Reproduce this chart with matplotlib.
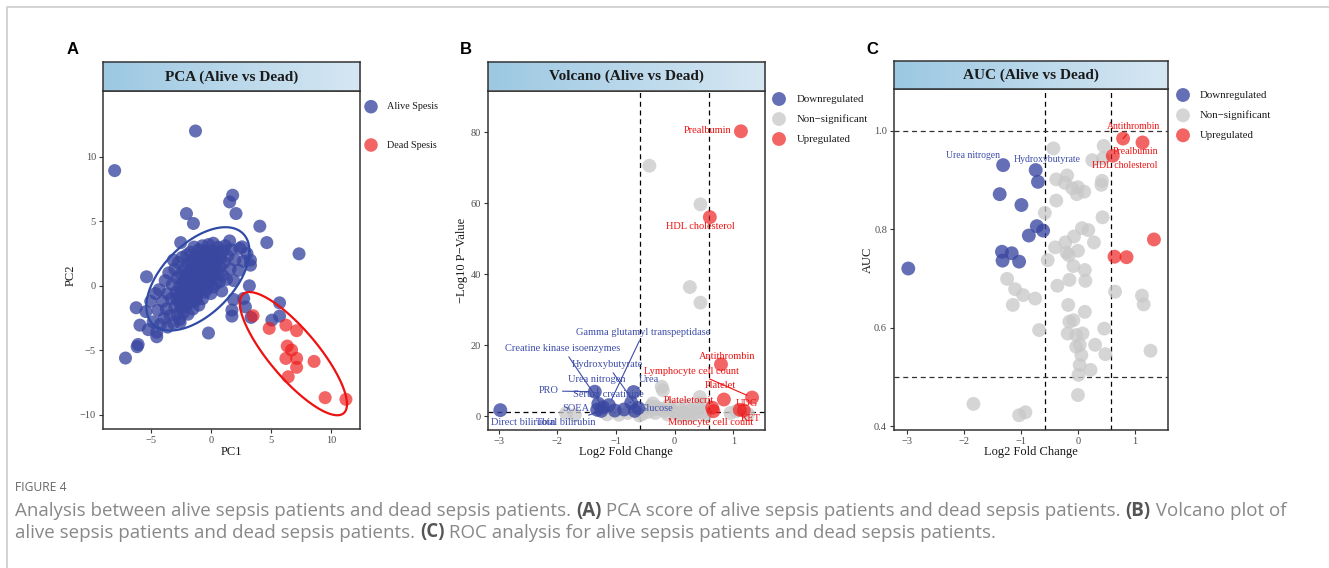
import numpy as np
import matplotlib
matplotlib.use('Agg')
import matplotlib.pyplot as plt
from matplotlib.colors import LinearSegmentedColormap

# ---------------- data ----------------
# Panel A: PCA scores (outliers first, then the spread core, then the dense centre)
alive_x = [-8.0, -1.28, 1.81, 1.56, 2.09, -2.03, -1.45, 4.07, 4.65, 7.33, -7.1, -6.13, -6.05,
           -0.2, 3.2, 5.71, 5.71, 5.07, 3.34, 1.75, 1.89, 2.73, 2.87, 1.75, 3.29, 3.29, 2.59,
           1.56, -2.51, -3.12, -5.35, -6.21, -5.9, -4.5, -2.56, -1.2,
           -5.4, -5.2, -5.0, -4.8, -4.6, -4.5,
           -4.4, -4.3, -4.2, -4.0, -3.9, -3.8, -3.7, -3.6, -3.6, -3.5,
           -3.4, -3.3, -3.2, -3.1, -3.0, -3.0, -2.9, -2.8, -2.8, -2.7, -2.7, -2.6, -2.6, -2.5, -2.5, -2.5,
           -2.4, -2.4, -2.3, -2.3, -2.2, -2.2, -2.1, -2.1, -2.0, -2.0, -2.0, -1.9, -1.9, -1.8, -1.8,
           -1.7, -1.7, -1.6, -1.6, -1.6, -1.5, -1.5,
           -1.4, -1.4, -1.4, -1.3, -1.3, -1.2, -1.2, -1.1, -1.1, -1.1, -1.0, -1.0, -0.9, -0.9, -0.9,
           -0.8, -0.8, -0.7, -0.7, -0.7, -0.6, -0.6, -0.5, -0.5,
           -0.4, -0.4, -0.3, -0.3, -0.2, -0.2, -0.1, -0.1, 0.0, 0.0, 0.0, 0.1, 0.1, 0.2, 0.2, 0.3, 0.3,
           0.4, 0.4, 0.5,
           0.6, 0.6, 0.7, 0.8, 0.8, 0.9, 1.0, 1.0, 1.1, 1.2, 1.3, 1.4,
           1.6, 1.7, 1.9, 2.0, 2.3, 2.4, 2.7, 3.0,
           -2.4, -2.3, -2.2, -2.1, -2.0, -2.0, -1.9, -1.9, -1.8, -1.8, -1.7, -1.7, -1.6, -1.6, -1.5,
           -1.5, -1.4, -1.4, -1.3, -1.3, -1.2, -1.2, -1.1, -1.1, -1.0, -1.0, -0.9, -0.9, -0.8, -0.8,
           -0.7, -0.7, -0.6, -0.6, -0.5, -0.5, -0.4, -0.4, -0.3, -0.3, -0.2, -0.2, -0.1, 0.0, 0.0,
           0.1, 0.2, 0.3, -2.6, -2.8]
alive_y = [8.93, 12.0, 7.02, 6.5, 5.6, 5.6, 4.83, 4.62, 3.35, 2.48, -5.6, -4.72, -4.55,
           -3.66, 0.0, -1.32, -2.35, -2.66, -2.45, -2.35, -1.06, -0.98, -1.63, -1.88, 1.99, 1.6, 3.02,
           3.48, 3.35, 1.99, 0.7, -1.7, -3.05, -3.95, -2.84, -1.0,
           -2.0, -3.4, -1.2, -2.8, -0.6, -3.6,
           -1.9, -0.3, -3.0, -1.2, -2.5, 0.4, -1.8, -3.2, -0.6, 1.0,
           -2.3, -1.0, 0.1, -2.9, -1.6, 1.3, -0.5, -2.2, 0.6, -1.2, 1.8, -0.1, -2.6, -1.7, 0.9, -0.7,
           2.2, -1.2, 0.3, -2.1, 1.3, -0.4, -1.6, 0.8, 2.4, -0.9, 0.1, 1.7, -2.2, -0.2, 1.0,
           -1.3, 2.6, 0.4, -0.7, 1.6, -1.8, 2.0,
           0.6, -0.3, 3.0, 1.3, -1.2, 2.3, 0.1, -0.6, 1.8, 0.9, 2.8, -1.5, 0.4, 1.5, -0.3,
           2.4, 0.9, -1.0, 3.1, 1.9, 0.2, 1.2, 2.7, -0.5,
           1.6, 0.6, 2.2, -0.2, 1.1, 3.2, 0.3, 1.9, 2.7, -0.6, 1.3, 0.7, 2.3, 3.3, -0.1, 1.6, 0.9,
           2.6, 0.2, 1.9,
           1.1, 3.0, 0.3, 2.2, 1.5, -0.4, 2.7, 0.8, 1.8, 3.1, 0.5, 2.3,
           1.3, 2.8, 0.4, 2.0, 1.2, 2.9, 1.9, 2.5,
           -0.6, 0.1, -0.9, 0.4, -0.3, 0.6, -0.8, 0.2, 0.7, -0.4, 0.0, 0.9, -0.3, 0.5, 1.0,
           0.0, 0.4, 1.2, -0.2, 0.8, 0.5, 1.4, 0.1, 0.7, 1.2, 0.2, 0.8, 1.6, 0.4, 1.2,
           0.7, 1.6, 0.9, 1.8, 0.5, 1.3, 1.9, 0.9, 1.4, 0.4, 1.8, 0.8, 1.3, 1.8, 0.8,
           1.4, 2.0, 1.1, -0.7, -1.0]
dead_x = [3.51, 4.85, 6.24, 7.13, 6.35, 6.71, 6.24, 7.13, 8.58, 7.13, 6.43, 9.5, 11.23]
dead_y = [-2.32, -3.3, -3.05, -3.48, -4.67, -4.98, -5.63, -5.63, -5.86, -6.32, -7.05, -8.67, -8.8]

# Panel B: volcano
vol_down_names = ['Direct bilirubin', 'PRO', 'Urea', 'Gamma glutamyl transpeptidase',
                  'Creatine kinase isoenzymes', 'Hydroxybutyrate', 'Urea nitrogen',
                  'Serum creatinine', 'SOEA', 'Glucose', 'Total bilirubin', '', '']
vol_down_fc = [-2.97, -1.36, -0.70, -1.12, -1.22, -0.62, -1.30, -0.74, -1.32, -0.68, -1.25, -1.02, -0.86]
vol_down_p = [1.7, 6.9, 6.8, 3.1, 2.5, 2.3, 3.5, 3.8, 1.8, 1.5, 1.5, 1.6, 1.9]
vol_up_names = ['Prealbumin', 'HDL cholesterol', 'Antithrombin', 'Platelet', 'Lymphocyte cell count',
                'Plateletocrit', 'UDG', 'KET', 'Monocyte cell count']
vol_up_fc = [1.13, 0.60, 0.79, 0.84, 1.32, 0.64, 1.11, 1.18, 0.66]
vol_up_p = [80.3, 56.1, 14.6, 4.7, 5.25, 2.4, 1.8, 1.6, 1.4]
vol_ns_fc = [-0.43, 0.44, 0.26, 0.44, -0.20, -0.22, 0.43, 0.45, -0.37, -0.30, -1.85, -1.70, -1.15,
             -0.95, -0.80, -0.55, -0.45, -0.40, -0.33, -0.25, -0.18, -0.12, -0.05, 0.02, 0.08, 0.15,
             0.22, 0.28, 0.35, 0.40, 0.48, 0.52, 0.95, 1.05, 1.25, -0.60, -0.10, 0.10, 0.30, -0.35,
             0.00, 0.20]
vol_ns_p = [70.6, 59.7, 36.4, 32.0, 7.3, 8.3, 5.4, 3.6, 3.6, 2.5, 0.8, 0.3, 0.5, 0.4, 0.9, 0.6, 1.2,
            2.8, 0.9, 2.0, 1.5, 0.5, 1.8, 0.7, 2.3, 1.0, 0.4, 1.6, 0.8, 2.6, 1.1, 0.3, 0.9, 1.4, 0.6,
            0.2, 3.1, 0.15, 0.2, 1.9, 1.2, 2.9]
# label positions (data units) for volcano
vol_lab_pos = {
    'Gamma glutamyl transpeptidase': (-0.53, 23.7), 'Creatine kinase isoenzymes': (-1.90, 19.1),
    'Hydroxybutyrate': (-1.15, 14.6), 'Urea nitrogen': (-1.32, 10.4), 'Urea': (-0.44, 10.4),
    'PRO': (-2.15, 7.1), 'Serum creatinine': (-1.13, 6.2), 'SOEA': (-1.68, 2.25),
    'Glucose': (-0.31, 2.25), 'Direct bilirubin': (-2.58, -1.9), 'Total bilirubin': (-1.85, -1.9),
    'Prealbumin': (0.56, 80.6), 'HDL cholesterol': (0.44, 53.6), 'Antithrombin': (0.90, 16.9),
    'Lymphocyte cell count': (0.29, 12.7), 'Platelet': (0.78, 8.6), 'Plateletocrit': (0.24, 4.5),
    'UDG': (1.23, 3.66), 'KET': (1.30, -0.56), 'Monocyte cell count': (0.62, -1.9)}
vol_seg = ['Gamma glutamyl transpeptidase', 'Creatine kinase isoenzymes', 'Hydroxybutyrate',
           'Urea nitrogen', 'Urea', 'PRO', 'Total bilirubin', 'Lymphocyte cell count', 'Serum creatinine']

# Panel C: AUC
auc_down_fc = [-1.31, -0.74, -0.70, -1.37, -0.99, -0.72, -0.61, -0.86, -1.33, -1.16, -1.32, -1.03, -2.97]
auc_down_v = [0.930, 0.920, 0.896, 0.871, 0.849, 0.806, 0.797, 0.787, 0.754, 0.751, 0.736, 0.734, 0.720]
auc_down_names = ['Urea nitrogen', 'Hydroxybutyrate', '', '', '', '', '', '', '', '', '', '', '']
auc_up_fc = [0.79, 1.13, 0.61, 1.33, 0.64, 0.85]
auc_up_v = [0.984, 0.976, 0.949, 0.779, 0.744, 0.743]
auc_up_names = ['Antithrombin', 'Prealbumin', 'HDL cholesterol', '', '', '']
auc_ns_fc = [-0.43, 0.45, 0.25, 0.44, -0.19, -0.38, -0.23, -0.10, 0.0, 0.11, -0.02, 0.42, 0.41, -0.38,
             -0.58, 0.43, 0.07, 0.18, -0.07, -0.22, 0.28, -0.40, 0.0, -0.20, -0.16, -0.53, -0.08, 0.12,
             -1.24, -0.15, 0.13, 0.65, -1.10, -0.96, -0.75, -0.36, 1.12, 1.15, -1.14, -0.17, 0.12, -0.08,
             -0.15, 0.46, -0.68, -0.18, 0.08, -0.03, 0.03, -0.03, 0.30, 0.06, 0.48, 1.27, 0.03, 0.22,
             0.01, 0.0, -1.83, -1.03, -0.92]
auc_ns_v = [0.964, 0.969, 0.940, 0.944, 0.909, 0.901, 0.894, 0.883, 0.885, 0.876, 0.871, 0.898, 0.890,
            0.858, 0.833, 0.824, 0.802, 0.798, 0.785, 0.773, 0.773, 0.763, 0.756, 0.752, 0.747, 0.737,
            0.725, 0.717, 0.699, 0.697, 0.695, 0.673, 0.678, 0.666, 0.659, 0.685, 0.665, 0.647, 0.646,
            0.646, 0.632, 0.615, 0.612, 0.598, 0.595, 0.588, 0.588, 0.585, 0.565, 0.561, 0.565, 0.544,
            0.546, 0.553, 0.524, 0.514, 0.504, 0.463, 0.445, 0.422, 0.428]
auc_lab_pos = {'Antithrombin': (0.975, 1.009), 'Prealbumin': (1.0, 0.957), 'HDL cholesterol': (0.82, 0.929),
               'Urea nitrogen': (-1.83, 0.949), 'Hydroxybutyrate': (-0.53, 0.942)}

fc_cut = 0.585
p_cut = 1.3
auc_cuts = [0.5, 1.0]

# ---------------- style ----------------
W, H = 1329, 568
plt.rcParams['font.family'] = ['Liberation Serif', 'DejaVu Serif']
plt.rcParams['axes.unicode_minus'] = True
BLUE = '#3A47A0'
RED = '#EE1B1B'
GREY = '#C8C8C8'
BLUE_T = '#3D4DA8'
RED_T = '#EE1111'
TICKC = '#4D4D4D'

fig = plt.figure(figsize=(W / 100, H / 100), dpi=100)


def px_axes(l, t, r, b, **kw):
    return fig.add_axes([l / W, 1 - b / H, (r - l) / W, (b - t) / H], **kw)


strip_cmap = LinearSegmentedColormap.from_list('strip', ['#9CC8E2', '#D6E7F3'])


def style(ax):
    for s in ax.spines.values():
        s.set_color('#333333')
        s.set_linewidth(1.1)
    ax.tick_params(direction='out', length=3, width=0.8, color='#333333',
                   labelcolor=TICKC, labelsize=7.5, pad=2)


def strip(l, t, r, b, title):
    ax = px_axes(l, t, r, b)
    ax.imshow(np.linspace(0, 1, 256)[None, :], cmap=strip_cmap, aspect='auto',
              extent=[0, 1, 0, 1])
    ax.set_xlim(0, 1)
    ax.set_ylim(0, 1)
    ax.set_xticks([])
    ax.set_yticks([])
    for s in ax.spines.values():
        s.set_color('#333333')
        s.set_linewidth(1.1)
    ax.text(0.5, 0.48, title, ha='center', va='center', fontsize=11, fontweight='bold', color='#1a1a1a')


def cov_trob(X, nu=5, iters=100):
    n, p = X.shape
    m = X.mean(0)
    S = np.cov(X.T)
    for _ in range(iters):
        d = X - m
        md = np.einsum('ij,jk,ik->i', d, np.linalg.inv(S), d)
        w = (nu + p) / (nu + md)
        m = (w[:, None] * X).sum(0) / w.sum()
        d = X - m
        S = (w[:, None] * d).T @ d / n
    return m, S


def ellipse(ax, xs, ys, fq, color):
    X = np.column_stack([xs, ys])
    m, S = cov_trob(X)
    r = np.sqrt(2 * fq)
    th = np.linspace(0, 2 * np.pi, 200)
    circ = np.column_stack([np.cos(th), np.sin(th)])
    L = np.linalg.cholesky(S).T
    e = m + r * circ @ L
    ax.plot(e[:, 0], e[:, 1], color=color, lw=1.6, zorder=3)


# ---------------- Panel A ----------------
axA = px_axes(103, 91, 360, 429)
style(axA)
axA.scatter(alive_x, alive_y, s=88, c=BLUE, alpha=0.78, edgecolors='none', zorder=2)
axA.scatter(dead_x, dead_y, s=88, c=RED, alpha=0.68, edgecolors='none', zorder=2)
ellipse(axA, alive_x, alive_y, 3.05, '#2F4BA5')
ellipse(axA, dead_x, dead_y, 3.885, '#EE1111')
axA.set_xlim(-8.97, 12.4)
axA.set_ylim(-11.1, 15.1)
axA.set_xticks([-5, 0, 5, 10])
axA.set_yticks([-10, -5, 0, 5, 10])
strip(103, 62, 360, 91, 'PCA (Alive vs Dead)')

# ---------------- Panel B ----------------
axB = px_axes(488, 90.5, 765, 430)
style(axB)
axB.scatter(vol_ns_fc, vol_ns_p, s=100, c=GREY, alpha=0.75, edgecolors='none', zorder=2)
axB.scatter(vol_down_fc, vol_down_p, s=100, c=BLUE, alpha=0.78, edgecolors='none', zorder=2)
axB.scatter(vol_up_fc, vol_up_p, s=100, c=RED, alpha=0.68, edgecolors='none', zorder=2)
for xv in (-fc_cut, fc_cut):
    axB.axvline(xv, color='black', lw=0.9, ls=(0, (4, 3)), zorder=1)
axB.axhline(p_cut, color='black', lw=0.9, ls=(0, (4, 3)), zorder=1)
for names, fcs, ps, col in ((vol_down_names, vol_down_fc, vol_down_p, BLUE_T),
                            (vol_up_names, vol_up_fc, vol_up_p, RED_T)):
    for nm, fx, py in zip(names, fcs, ps):
        if not nm:
            continue
        lx, ly = vol_lab_pos[nm]
        if nm in vol_seg:
            axB.annotate(nm, xy=(fx, py), xytext=(lx, ly), ha='center', va='center',
                         fontsize=7.5, color=col, zorder=4,
                         arrowprops=dict(arrowstyle='-', color=col, lw=0.8, shrinkA=1, shrinkB=4))
        else:
            axB.text(lx, ly, nm, ha='center', va='center', fontsize=7.5, color=col, zorder=4)
axB.set_xlim(-3.18, 1.54)
axB.set_ylim(-3.9, 91.8)
axB.set_xticks([-3, -2, -1, 0, 1])
axB.set_yticks([0, 20, 40, 60, 80])
strip(488, 61.7, 765, 90.5, 'Volcano (Alive vs Dead)')

# ---------------- Panel C ----------------
axC = px_axes(894, 89.3, 1168, 430)
style(axC)
axC.scatter(auc_ns_fc, auc_ns_v, s=100, c=GREY, alpha=0.75, edgecolors='none', zorder=2)
axC.scatter(auc_down_fc, auc_down_v, s=100, c=BLUE, alpha=0.78, edgecolors='none', zorder=2)
axC.scatter(auc_up_fc, auc_up_v, s=100, c=RED, alpha=0.68, edgecolors='none', zorder=2)
for xv in (-fc_cut, fc_cut):
    axC.axvline(xv, color='black', lw=0.9, ls=(0, (4, 3)), zorder=1)
for yv in auc_cuts:
    axC.axhline(yv, color='#333333', lw=0.9, ls=(0, (4, 3)), zorder=1)
for names, fcs, vs, col in ((auc_down_names, auc_down_fc, auc_down_v, BLUE_T),
                            (auc_up_names, auc_up_fc, auc_up_v, RED_T)):
    for nm, fx, vy in zip(names, fcs, vs):
        if not nm:
            continue
        lx, ly = auc_lab_pos[nm]
        if nm == 'Antithrombin':
            axC.annotate(nm, xy=(fx, vy), xytext=(lx, ly), ha='center', va='center',
                         fontsize=7, color=col, zorder=4,
                         arrowprops=dict(arrowstyle='-', color=col, lw=0.8, shrinkA=1, shrinkB=4))
        else:
            axC.text(lx, ly, nm, ha='center', va='center', fontsize=7, color=col, zorder=4)
axC.set_xlim(-3.22, 1.576)
axC.set_ylim(0.392, 1.084)
axC.set_xticks([-3, -2, -1, 0, 1])
axC.set_yticks([0.4, 0.6, 0.8, 1.0])
axC.set_yticklabels(['0.4', '0.6', '0.8', '1.0'])
strip(894, 60.7, 1168, 89.3, 'AUC (Alive vs Dead)')

# ---------------- overlay: labels, legends, border, caption ----------------
ov = fig.add_axes([0, 0, 1, 1], zorder=10)
ov.set_xlim(0, W)
ov.set_ylim(H, 0)
ov.axis('off')
ov.patch.set_alpha(0)

# border of page
ov.plot([7, 7, W], [H, 7, 7], color='#CCCCCC', lw=1.2)

# panel letters
for lx, lab in ((73, 'A'), (466, 'B'), (872, 'C')):
    ov.text(lx, 49, lab, ha='center', va='center', fontsize=12, fontweight='bold',
            family=['Liberation Sans', 'DejaVu Sans'], color='black')

# axis titles
ov.text(231, 452, 'PC1', ha='center', va='center', fontsize=9, color='#1a1a1a')
ov.text(71, 275, 'PC2', ha='center', va='center', fontsize=9, color='#1a1a1a', rotation=90)
ov.text(626, 452, 'Log2 Fold Change', ha='center', va='center', fontsize=9, color='#1a1a1a')
ov.text(462, 260, '\u2212Log10 P\u2212Value', ha='center', va='center', fontsize=9, color='#1a1a1a',
        rotation=90)
ov.text(1031, 452, 'Log2 Fold Change', ha='center', va='center', fontsize=9, color='#1a1a1a')
ov.text(868, 260, 'AUC', ha='center', va='center', fontsize=9, color='#1a1a1a', rotation=90)

# legends
legA = [('Alive Spesis', BLUE, 0.78, 106.7), ('Dead Spesis', RED, 0.68, 145)]
for txt, col, al, yy in legA:
    ov.scatter([371], [yy], s=95, c=col, alpha=al, edgecolors='none')
    ov.text(387, yy, txt, ha='left', va='center', fontsize=7.3, color='#1a1a1a')
legB = [('Downregulated', BLUE, 0.78), ('Non\u2212significant', GREY, 0.75), ('Upregulated', RED, 0.68)]
for (txt, col, al), yy in zip(legB, (99, 119, 139)):
    ov.scatter([779], [yy], s=100, c=col, alpha=al, edgecolors='none')
    ov.text(797, yy, txt, ha='left', va='center', fontsize=7.8, color='#1a1a1a')
for (txt, col, al), yy in zip(legB, (95, 115.3, 135.3)):
    ov.scatter([1183], [yy], s=100, c=col, alpha=al, edgecolors='none')
    ov.text(1200, yy, txt, ha='left', va='center', fontsize=7.8, color='#1a1a1a')

# caption
CAP = ['Open Sans', 'DejaVu Sans']
ov.text(15, 487.5, 'FIGURE 4', ha='left', va='center', fontsize=8.7, family=CAP, color='#666666')
renderer = fig.canvas.get_renderer()


def rich(x, y, segs, size=13.5):
    for txt, bold in segs:
        t = ov.text(x, y, txt, ha='left', va='center', fontsize=size, family=CAP,
                    fontweight='bold' if bold else 'normal',
                    color='#555555' if bold else '#888888')
        bb = t.get_window_extent(renderer)
        x += bb.width


rich(15, 511, [('Analysis between alive sepsis patients and dead sepsis patients. ', False), ('(A)', True),
               (' PCA score of alive sepsis patients and dead sepsis patients. ', False), ('(B)', True),
               (' Volcano plot of', False)])
rich(15, 532.5, [('alive sepsis patients and dead sepsis patients. ', False), ('(C)', True),
                 (' ROC analysis for alive sepsis patients and dead sepsis patients.', False)])

fig.savefig('out.png', dpi=100)
